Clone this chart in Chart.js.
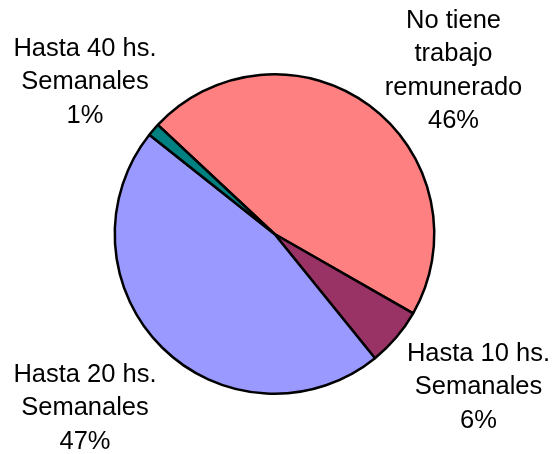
<!DOCTYPE html>
<html>
<head>
<meta charset="utf-8">
<script src="https://cdn.jsdelivr.net/npm/chart.js@4/dist/chart.umd.min.js"></script>
<style>
    html, body { margin: 0; padding: 0; background: #fff; }
    #wrap { width: 557px; height: 454px; }
</style>
</head>
<body>
<div id="wrap"><canvas id="chart" width="557" height="454"></canvas></div>
<script>
const categories = [
    ['No tiene', 'trabajo', 'remunerado'],
    ['Hasta 10 hs.', 'Semanales'],
    ['Hasta 20 hs.', 'Semanales'],
    ['Hasta 40 hs.', 'Semanales']
];
const values = [46.3, 5.9, 46.5, 1.3];
const colors = ['#FF8080', '#993366', '#9999FF', '#008080'];

// label placement relative to the pie centre: [dx, first baseline dy]
const labelOffsets = [[179, -206], [204, 127], [-189.5, 148], [-189.5, -178]];

const outsideLabels = {
    id: 'outsideLabels',
    afterDraw(chart) {
        const ctx = chart.ctx;
        const arcs = chart.getDatasetMeta(0).data;
        const total = values.reduce((s, v) => s + v, 0);
        ctx.save();
        ctx.font = '25.5px "Liberation Sans", Arial, sans-serif';
        ctx.fillStyle = '#000';
        ctx.textAlign = 'center';
        ctx.textBaseline = 'alphabetic';
        arcs.forEach((arc, i) => {
            const lines = categories[i].concat([Math.round(values[i] / total * 100) + '%']);
            const [dx, dy] = labelOffsets[i];
            lines.forEach((line, j) => {
                ctx.fillText(line, arc.x + dx, arc.y + dy + j * 33.3);
            });
        });
        ctx.restore();
    }
};

new Chart(document.getElementById('chart').getContext('2d'), {
    type: 'pie',
    data: {
        labels: categories.map(c => c.join(' ')),
        datasets: [{
            data: values,
            backgroundColor: colors,
            borderColor: '#000',
            borderWidth: 2.5
        }]
    },
    options: {
        responsive: false,
        animation: false,
        rotation: -46.9,
        layout: { padding: { left: 100, right: 108, top: 73, bottom: 59 } },
        plugins: {
            legend: { display: false },
            tooltip: { enabled: false }
        }
    },
    plugins: [outsideLabels]
});
</script>
</body>
</html>
